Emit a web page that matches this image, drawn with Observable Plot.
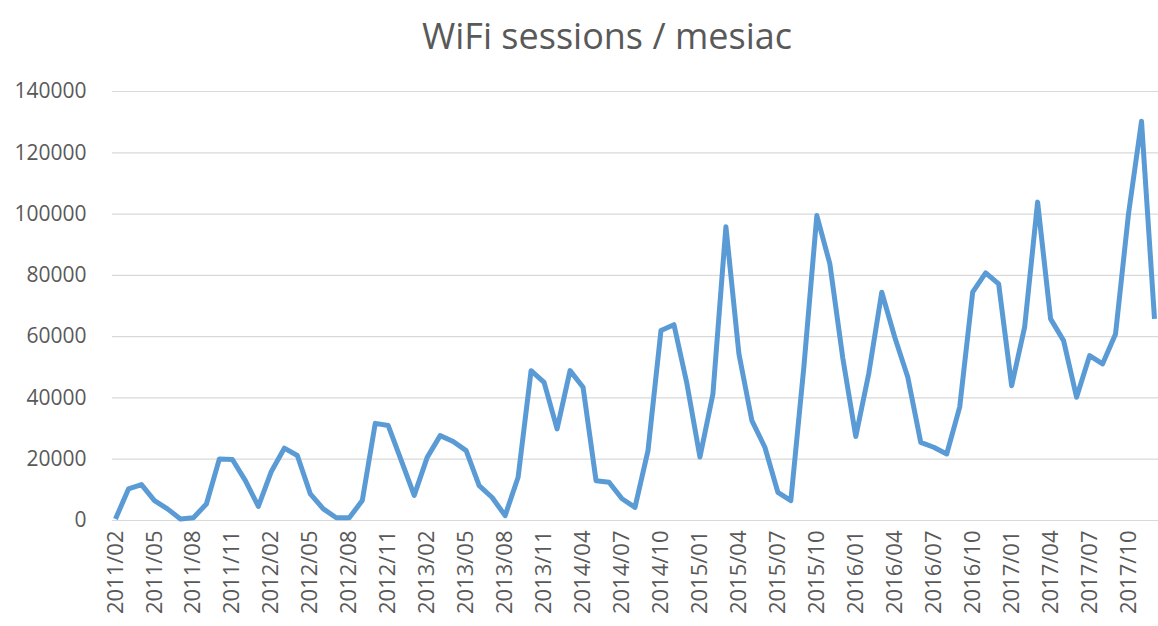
<!DOCTYPE html>
<html>
<head>
<meta charset="utf-8">
<script src="https://cdn.jsdelivr.net/npm/d3@7"></script>
<script src="https://cdn.jsdelivr.net/npm/@observablehq/plot@0.6"></script>
<style>
  html, body { margin: 0; padding: 0; background: #ffffff; }
  body { width: 1158px; height: 626px; overflow: hidden; font-family: "Open Sans", sans-serif; }
  #title { height: 70px; box-sizing: border-box; padding-top: 15px; padding-left: 56px; text-align: center; font-size: 36px; line-height: 42px; color: #595959; font-weight: 400; }
  #chart svg { display: block; }
  #chart svg g[aria-label="x-axis tick label"] text, #chart svg g[aria-label="x-axis"] text { font-size: 22px; }
</style>
</head>
<body>
<div id="title">WiFi sessions / mesiac</div>
<div id="chart"></div>
<script>
const months = [
  "2011/02","2011/03","2011/04","2011/05","2011/06","2011/07","2011/08","2011/09","2011/10","2011/11","2011/12",
  "2012/01","2012/02","2012/03","2012/04","2012/05","2012/06","2012/07","2012/08","2012/09","2012/10","2012/11","2012/12",
  "2013/01","2013/02","2013/03","2013/04","2013/05","2013/06","2013/07","2013/08","2013/09","2013/10","2013/11","2013/12",
  "2014/03","2014/04","2014/05","2014/06","2014/07","2014/08","2014/09","2014/10","2014/11","2014/12",
  "2015/01","2015/02","2015/03","2015/04","2015/05","2015/06","2015/07","2015/08","2015/09","2015/10","2015/11","2015/12",
  "2016/01","2016/02","2016/03","2016/04","2016/05","2016/06","2016/07","2016/08","2016/09","2016/10","2016/11","2016/12",
  "2017/01","2017/02","2017/03","2017/04","2017/05","2017/06","2017/07","2017/08","2017/09","2017/10","2017/11","2017/12"
];
const sessions = [
  500, 10300, 11700, 6500, 3800, 500, 900, 5400, 20100, 19900, 13000,
  4600, 16000, 23600, 21200, 8700, 3800, 900, 900, 6500, 31700, 31000, 19600,
  8200, 20600, 27700, 25800, 22800, 11400, 7500, 1600, 14100, 48900, 45100, 29900,
  48900, 43500, 13000, 12500, 7100, 4300, 22800, 62000, 63900, 44600,
  20700, 41300, 95900, 54400, 32600, 23900, 9200, 6500, 50000, 99500, 83800, 53000,
  27400, 48000, 74500, 59800, 46800, 25500, 23900, 21700, 37000, 74500, 80800, 77200,
  44000, 63100, 103900, 65800, 58700, 40200, 53800, 51100, 60900, 100100, 130300, 65800
];
const xTickLabels = months.filter((d, i) => i % 3 === 0);
const yTicks = [0, 20000, 40000, 60000, 80000, 100000, 120000, 140000];

const data = months.map((m, i) => ({month: m, value: sessions[i]}));

const chart = Plot.plot({
  width: 1158,
  height: 556,
  marginTop: 21,
  marginBottom: 106,
  marginLeft: 112,
  marginRight: 0,
  style: {fontFamily: "Open Sans, sans-serif", fontSize: "21px", color: "#595959", background: "#ffffff"},
  x: {
    type: "point", domain: months, padding: 0, insetLeft: 3, insetRight: 4,
    ticks: xTickLabels, tickRotate: -90, tickSize: 0, tickPadding: 10, label: null
  },
  y: {
    domain: [0, 140000], ticks: yTicks, tickSize: 0, tickPadding: 26,
    tickFormat: d => String(d), label: null
  },
  marks: [
    Plot.ruleY(yTicks, {stroke: "#d9d9d9", strokeWidth: 1.2}),
    Plot.line(data, {x: "month", y: "value", stroke: "#5b9bd5", strokeWidth: 5, strokeLinejoin: "round", strokeLinecap: "butt"})
  ]
});
document.getElementById("chart").appendChild(chart);
</script>
</body>
</html>
